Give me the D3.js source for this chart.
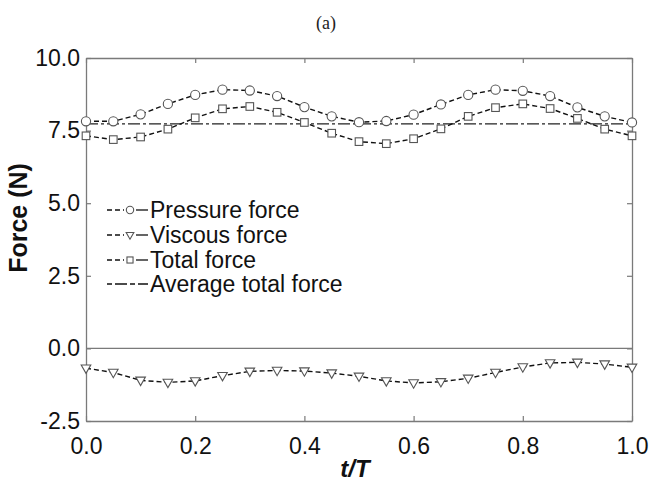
<!DOCTYPE html>
<html>
<head>
<meta charset="utf-8">
<script src="https://cdn.jsdelivr.net/npm/d3@7/dist/d3.min.js"></script>
<style>
  html, body { margin: 0; padding: 0; background: #fff; }
  svg { display: block; font-family: "Liberation Sans", Arial, sans-serif; }
</style>
</head>
<body>
<svg id="chart" width="652" height="489"></svg>
<script>
// Phase of the cycle (t/T)
const phase = [0, 0.05, 0.1, 0.15, 0.2, 0.25, 0.3, 0.35, 0.4, 0.45, 0.5,
               0.55, 0.6, 0.65, 0.7, 0.75, 0.8, 0.85, 0.9, 0.95, 1.0];

// Force components (N)
const pressureForce = [7.82, 7.82, 8.06, 8.42, 8.73, 8.91, 8.88, 8.69, 8.31, 7.99, 7.79,
                       7.83, 8.05, 8.40, 8.73, 8.91, 8.87, 8.69, 8.30, 7.99, 7.78];
const viscousForce  = [-0.68, -0.83, -1.10, -1.17, -1.12, -0.94, -0.79, -0.76, -0.78, -0.85, -0.96,
                       -1.12, -1.19, -1.15, -1.03, -0.83, -0.64, -0.50, -0.48, -0.54, -0.65];
const totalForce    = [7.32, 7.19, 7.28, 7.55, 7.94, 8.25, 8.33, 8.13, 7.78, 7.41, 7.12,
                       7.05, 7.22, 7.56, 7.99, 8.29, 8.42, 8.26, 7.92, 7.55, 7.32];
const averageTotalForce = 7.73;

const xTicks = [0, 0.2, 0.4, 0.6, 0.8, 1.0];
const yTicks = [-2.5, 0, 2.5, 5.0, 7.5, 10.0];
const legendLabels = ["Pressure force", "Viscous force", "Total force", "Average total force"];

const svg = d3.select("#chart");
const margin = { left: 86, right: 20, top: 58, bottom: 68 };
const W = 652, H = 489;
const x = d3.scaleLinear().domain([0, 1]).range([margin.left, W - margin.right]);
const y = d3.scaleLinear().domain([-2.5, 10]).range([H - margin.bottom, margin.top]);

const frameColor = "#7a7a7a";
// one decimal, plain hyphen for negatives
const fmt = v => v.toFixed(1);

// Axes with inward ticks on all four sides
const gB = svg.append("g").attr("transform", `translate(0,${y(-2.5)})`)
  .call(d3.axisBottom(x).tickValues(xTicks).tickFormat(fmt).tickSize(-5).tickSizeOuter(0).tickPadding(17));
const gL = svg.append("g").attr("transform", `translate(${x(0)},0)`)
  .call(d3.axisLeft(y).tickValues(yTicks).tickFormat(fmt).tickSize(-5).tickSizeOuter(0).tickPadding(6));
const gT = svg.append("g").attr("transform", `translate(0,${y(10)})`)
  .call(d3.axisTop(x).tickValues(xTicks).tickFormat("").tickSize(-5).tickSizeOuter(0));
const gR = svg.append("g").attr("transform", `translate(${x(1)},0)`)
  .call(d3.axisRight(y).tickValues(yTicks).tickFormat("").tickSize(-5).tickSizeOuter(0));

[gB, gL, gT, gR].forEach(g => {
  g.select(".domain").attr("stroke", frameColor).attr("stroke-width", 1.3);
  g.selectAll(".tick line").attr("stroke", frameColor).attr("stroke-width", 1.2);
  g.selectAll(".tick text").attr("fill", "#111").attr("font-size", 23)
    .attr("font-family", "'Liberation Sans', Arial, sans-serif");
});

// Zero reference line
svg.append("line")
  .attr("x1", x(0)).attr("x2", x(1))
  .attr("y1", y(0)).attr("y2", y(0))
  .attr("stroke", frameColor).attr("stroke-width", 1.3);

// Average total force (dash-dot)
svg.append("line")
  .attr("x1", x(0)).attr("x2", x(1))
  .attr("y1", y(averageTotalForce)).attr("y2", y(averageTotalForce))
  .attr("stroke", "#222").attr("stroke-width", 1.3)
  .attr("stroke-dasharray", "12,3,3,3");

const series = [
  { values: pressureForce, marker: "circle" },
  { values: viscousForce, marker: "triangle" },
  { values: totalForce, marker: "square" }
];

const lineGen = (vals) => d3.line().x((d, i) => x(phase[i])).y(d => y(d))(vals);

function drawMarker(g, type, cx, cy, s) {
  if (type === "circle") {
    g.append("circle").attr("cx", cx).attr("cy", cy).attr("r", 4.6 * s)
      .attr("fill", "#fff").attr("stroke", "#555").attr("stroke-width", 1.1);
  } else if (type === "square") {
    const h = 3.8 * s;
    g.append("rect").attr("x", cx - h).attr("y", cy - h).attr("width", 2 * h).attr("height", 2 * h)
      .attr("fill", "#fff").attr("stroke", "#555").attr("stroke-width", 1.1);
  } else {
    const w = 4.8 * s, t = 3.2 * s, b = 5.2 * s;
    g.append("path").attr("d", `M${cx - w},${cy - t}L${cx + w},${cy - t}L${cx},${cy + b}Z`)
      .attr("fill", "#fff").attr("stroke", "#555").attr("stroke-width", 1.1);
  }
}

series.forEach(s => {
  svg.append("path").attr("d", lineGen(s.values))
    .attr("fill", "none").attr("stroke", "#111").attr("stroke-width", 1.4)
    .attr("stroke-dasharray", "5,3");
  const gm = svg.append("g");
  s.values.forEach((v, i) => drawMarker(gm, s.marker, x(phase[i]), y(v), 1));
});

// Legend
const legendY = [210, 235, 260, 284];
const legendMarkers = ["circle", "triangle", "square", null];
const legend = svg.append("g");
legendLabels.forEach((label, i) => {
  const ly = legendY[i];
  if (legendMarkers[i]) {
    legend.append("line").attr("x1", 107).attr("x2", 124).attr("y1", ly).attr("y2", ly)
      .attr("stroke", "#111").attr("stroke-width", 1.3).attr("stroke-dasharray", "5,3");
    legend.append("line").attr("x1", 136).attr("x2", 148).attr("y1", ly).attr("y2", ly)
      .attr("stroke", "#111").attr("stroke-width", 1.3);
    drawMarker(legend, legendMarkers[i], 130, ly, 0.8);
  } else {
    legend.append("line").attr("x1", 107).attr("x2", 148).attr("y1", ly).attr("y2", ly)
      .attr("stroke", "#111").attr("stroke-width", 1.3).attr("stroke-dasharray", "5,3,12,3");
  }
  legend.append("text").attr("x", 150).attr("y", ly).attr("dy", "0.35em")
    .attr("font-size", 23).attr("fill", "#111").text(label);
});

// Axis titles
svg.append("text")
  .attr("transform", "translate(27,218) rotate(-90)")
  .attr("text-anchor", "middle")
  .attr("font-size", 25).attr("font-weight", "bold").attr("fill", "#111")
  .text("Force (N)");

svg.append("text")
  .attr("x", 355).attr("y", 477)
  .attr("text-anchor", "middle")
  .attr("font-size", 24).attr("font-weight", "bold").attr("font-style", "italic").attr("fill", "#111")
  .text("t/T");

// Panel label
svg.append("text")
  .attr("x", 326).attr("y", 29)
  .attr("text-anchor", "middle")
  .attr("font-family", "'Liberation Serif', 'Times New Roman', serif")
  .attr("font-size", 18).attr("fill", "#222")
  .text("(a)");
</script>
</body>
</html>
